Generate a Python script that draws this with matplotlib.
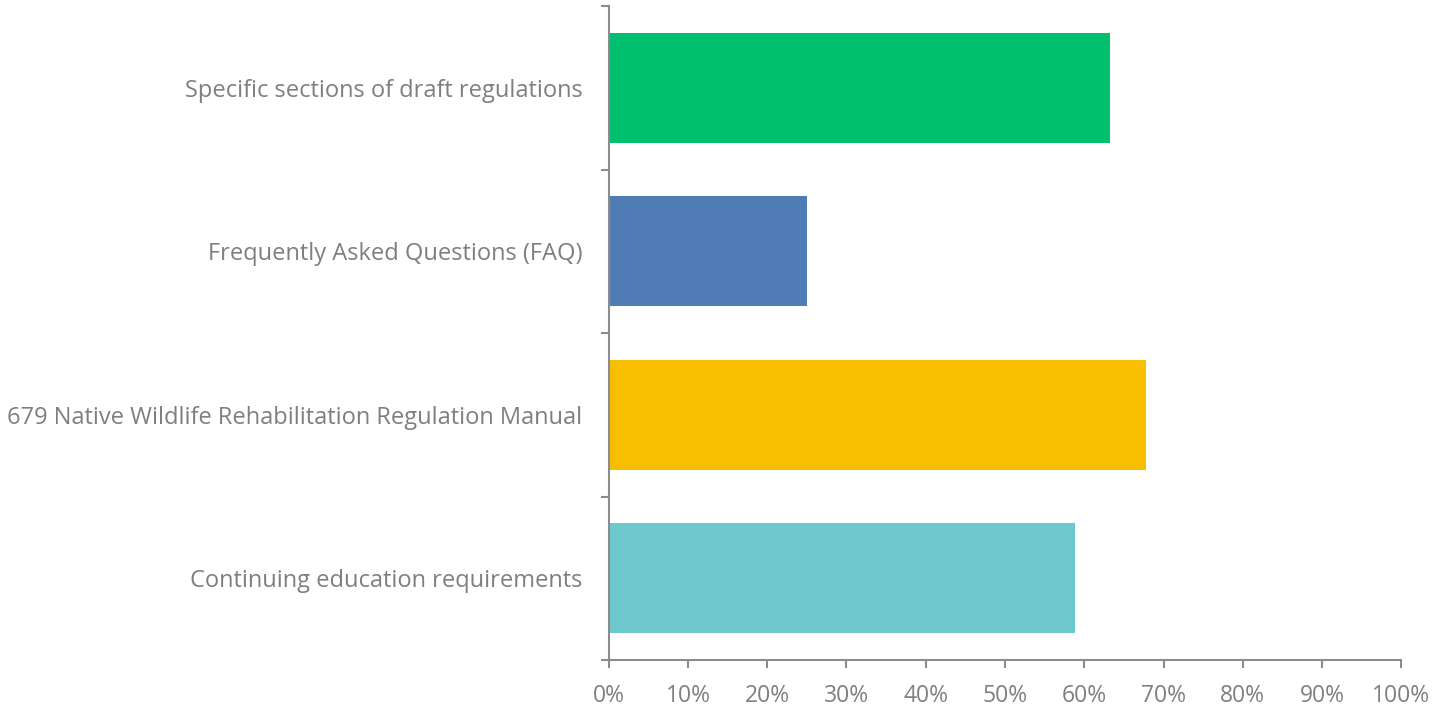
import matplotlib
matplotlib.use("Agg")
import matplotlib.pyplot as plt
from matplotlib.ticker import FixedLocator, PercentFormatter

categories = [
    "Specific sections of draft regulations",
    "Frequently Asked Questions (FAQ)",
    "679 Native Wildlife Rehabilitation Regulation Manual",
    "Continuing education requirements",
]
values = [63.2, 25.0, 67.8, 58.8]
colors = ["#00BF6F", "#507CB5", "#F8BE00", "#6CC8CD"]
xticks = [0, 10, 20, 30, 40, 50, 60, 70, 80, 90, 100]

plt.rcParams['font.family'] = ['Open Sans', 'DejaVu Sans']
text_color = "#7F7F7F"
spine_color = "#8C8C8C"

fig = plt.figure(figsize=(14.41, 7.05), dpi=100)
ax = fig.add_axes([608.7/1441, 1-660/705, (1401.3-608.7)/1441, (660-6)/705])

ypos = list(range(len(categories)))
ax.barh(ypos, values, height=0.673, color=colors)

ax.set_xlim(0, 100)
ax.set_ylim(len(categories)-0.5, -0.5)
ax.set_xticks(xticks)
ax.xaxis.set_major_formatter(PercentFormatter(decimals=0))
ax.set_yticks(ypos)
ax.set_yticklabels(categories)
ax.yaxis.set_minor_locator(FixedLocator([i-0.5 for i in range(len(categories)+1)]))

for s in ["top", "right"]:
    ax.spines[s].set_visible(False)
for s in ["left", "bottom"]:
    ax.spines[s].set_color(spine_color)
    ax.spines[s].set_linewidth(1.5)

ax.tick_params(axis='y', which='major', length=0, pad=19, labelsize=17, labelcolor=text_color)
ax.tick_params(axis='y', which='minor', length=6, width=1.5, color=spine_color)
ax.tick_params(axis='x', which='major', length=6, width=1.5, color=spine_color,
               pad=11, labelsize=16.5, labelcolor=text_color)

fig.savefig("out.png", dpi=100)
